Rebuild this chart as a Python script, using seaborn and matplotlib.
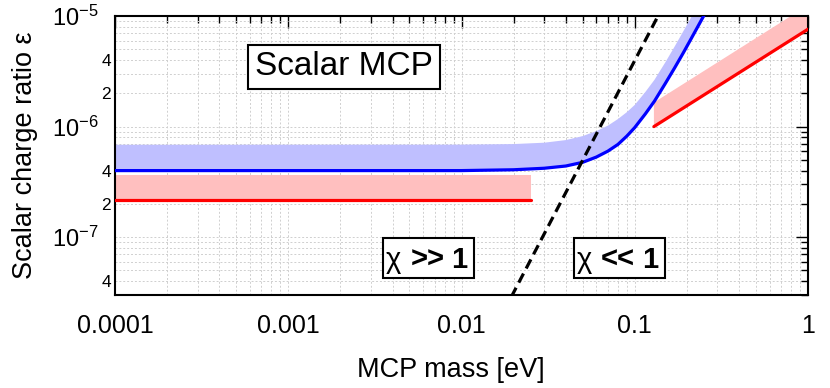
import matplotlib
matplotlib.use("Agg")
import matplotlib.pyplot as plt
from matplotlib.patches import Rectangle
import seaborn as sns
import pandas as pd

# ---------------- data ----------------
blue_mass = [1e-4, 0.01, 0.02, 0.03, 0.04, 0.05, 0.06, 0.07, 0.08, 0.09, 0.1, 0.115,
             0.13, 0.15, 0.17, 0.19, 0.21, 0.23, 0.26]
blue_eps = [4.0e-7, 4.0e-7, 4.07e-7, 4.2e-7, 4.4e-7, 4.75e-7, 5.3e-7, 6.0e-7, 6.9e-7,
            8.2e-7, 9.8e-7, 1.3e-6, 1.7e-6, 2.45e-6, 3.4e-6, 4.6e-6, 6.1e-6, 7.9e-6,
            1.12e-5]
blue_band_mass = [1e-4, 0.01, 0.02, 0.03, 0.04, 0.05, 0.06, 0.07, 0.08, 0.09, 0.1, 0.115,
                  0.13, 0.15, 0.17, 0.19, 0.21, 0.23]
blue_band_eps = [6.85e-7, 6.87e-7, 6.95e-7, 7.15e-7, 7.55e-7, 8.2e-7, 9.1e-7, 1.02e-6,
                 1.17e-6, 1.35e-6, 1.57e-6, 2.05e-6, 2.65e-6, 3.8e-6, 5.3e-6, 7.2e-6,
                 9.5e-6, 1.25e-5]

red_low_mass = [1e-4, 0.0251]
red_low_eps = [2.17e-7, 2.17e-7]
red_low_band_eps = [3.66e-7, 3.66e-7]

red_high_mass = [0.129, 1.0]
red_high_eps = [1.0e-6, 7.6e-6]
red_high_band_eps = [1.65e-6, 1.25e-5]

dash_mass = [0.0194, 0.138]
dash_eps = [2.89e-8, 1.04e-5]

x_ticks = [1e-4, 1e-3, 1e-2, 1e-1, 1.0]
x_tick_labels = ["0.0001", "0.001", "0.01", "0.1", "1"]
y_ticks = [1e-7, 1e-6, 1e-5]
y_tick_labels = [r"$\mathregular{10^{-7}}$", r"$\mathregular{10^{-6}}$", r"$\mathregular{10^{-5}}$"]
y_minor_labelled = {4e-8: "4", 2e-7: "2", 4e-7: "4", 2e-6: "2", 4e-6: "4"}

x_label = "MCP mass [eV]"
y_label = "Scalar charge ratio ε"
title_box = "Scalar MCP"
regime_symbol = "χ"
regime_left = ">>"
regime_right = "<<"
regime_value = "1"

# ---------------- style ----------------
sns.set_theme(style="white")
plt.rcParams['font.family'] = ['Liberation Sans', 'DejaVu Sans']
plt.rcParams['text.color'] = 'black'
plt.rcParams['axes.labelcolor'] = 'black'
plt.rcParams['xtick.color'] = 'black'
plt.rcParams['ytick.color'] = 'black'

W, H = 830, 388
fig = plt.figure(figsize=(W / 100, H / 100), dpi=100)
L, R, T, B = 115, 808, 16, 295
ax = fig.add_axes([L / W, 1 - B / H, (R - L) / W, (B - T) / H])
ax.set_xscale("log")
ax.set_yscale("log")
ax.set_xlim(1e-4, 1.0)
ax.set_ylim(3e-8, 1e-5)

BAND_BLUE = "#bfbfff"
BAND_RED = "#ffbfbf"

# bands
ax.fill(blue_mass + blue_band_mass[::-1], blue_eps + blue_band_eps[::-1],
        color=BAND_BLUE, lw=0, zorder=1)
ax.fill(red_low_mass + red_low_mass[::-1], red_low_eps + red_low_band_eps[::-1],
        color=BAND_RED, lw=0, zorder=1)
ax.fill(red_high_mass + red_high_mass[::-1], red_high_eps + red_high_band_eps[::-1],
        color=BAND_RED, lw=0, zorder=1)

# lines through seaborn
df_blue = pd.DataFrame({"m": blue_mass, "e": blue_eps})
df_rl = pd.DataFrame({"m": red_low_mass, "e": red_low_eps})
df_rh = pd.DataFrame({"m": red_high_mass, "e": red_high_eps})
df_d = pd.DataFrame({"m": dash_mass, "e": dash_eps})
sns.lineplot(data=df_blue, x="m", y="e", ax=ax, color="#0000ff", lw=2.3, sort=False,
             estimator=None, zorder=3)
sns.lineplot(data=df_rl, x="m", y="e", ax=ax, color="#ff0000", lw=2.3, sort=False,
             estimator=None, zorder=3)
sns.lineplot(data=df_rh, x="m", y="e", ax=ax, color="#ff0000", lw=2.3, sort=False,
             estimator=None, zorder=3)
sns.lineplot(data=df_d, x="m", y="e", ax=ax, color="black", lw=2.3, sort=False,
             estimator=None, zorder=4)
ax.lines[-1].set_dashes([3.2, 1.8])

# ticks
ax.set_xticks(x_ticks, x_tick_labels)
xminor = [k * 10.0 ** d for d in range(-4, 0) for k in range(2, 10)]
ax.set_xticks(xminor, minor=True)
ax.set_xticklabels([], minor=True)
ax.set_yticks(y_ticks, y_tick_labels)
yminor = [k * 10.0 ** d for d in range(-8, -5) for k in range(2, 10)]
yminor = [v for v in yminor if 3e-8 <= v <= 1e-5]
ax.set_yticks(yminor, minor=True)
ylab = []
for v in yminor:
    lab = ""
    for key, s in y_minor_labelled.items():
        if abs(v - key) / key < 1e-6:
            lab = s
    ylab.append(lab)
ax.set_yticklabels(ylab, minor=True)

ax.tick_params(which="both", direction="in", top=True, right=True, color="black",
               width=1.0, labelcolor="black")
ax.tick_params(which="major", length=8.5)
ax.tick_params(which="minor", length=5)
ax.tick_params(axis="x", which="major", labelsize=18, pad=14)
ax.tick_params(axis="y", which="major", labelsize=17, pad=12)
ax.tick_params(axis="y", which="minor", labelsize=12.5, pad=3)

ax.grid(True, which="both", color="#cfcfcf", linestyle=(0, (2, 2)), lw=0.7, zorder=0)
ax.set_axisbelow(True)
for sp in ax.spines.values():
    sp.set_color("black")
    sp.set_linewidth(1.5)
    sp.set_visible(True)

ax.set_xlabel(x_label, fontsize=19.5, color="black")
ax.set_ylabel(y_label, fontsize=19.5, color="black")
ax.xaxis.set_label_coords((451 - L) / (R - L), -(357 - B) / (B - T))
ax.yaxis.set_label_coords((38 - L) / (R - L), (B - 155) / (B - T))


def px(xp, yp):
    return ((xp - L) / (R - L), (B - yp) / (B - T))


box = dict(boxstyle="square,pad=0.2", fc="white", ec="black", lw=1.5)
ax.text(*px(255, 67), title_box, transform=ax.transAxes, ha="left", va="center",
        fontsize=24, bbox=box, zorder=6)


def regime_box(x0, op):
    x1, y0, y1 = x0 + 90.7, 238.3, 278.3
    bx, by = px(x0, y1)
    w = (x1 - x0) / (R - L)
    h = (y1 - y0) / (B - T)
    ax.add_patch(Rectangle((bx, by), w, h, transform=ax.transAxes, fc="white",
                           ec="black", lw=1.5, zorder=6))
    base = 267.5
    ax.text(*px(x0 + 2.5, base), regime_symbol, transform=ax.transAxes, ha="left",
            va="baseline", fontsize=21, zorder=7)
    ax.text(*px(x0 + 27, base), op, transform=ax.transAxes, ha="left",
            va="baseline", fontsize=21, fontweight="bold", zorder=7)
    ax.text(*px(x0 + 68, base), regime_value, transform=ax.transAxes, ha="left",
            va="baseline", fontsize=21, fontweight="bold", zorder=7)


regime_box(383.3, regime_left)
regime_box(573.8, regime_right)

fig.savefig("out.png", dpi=100)
